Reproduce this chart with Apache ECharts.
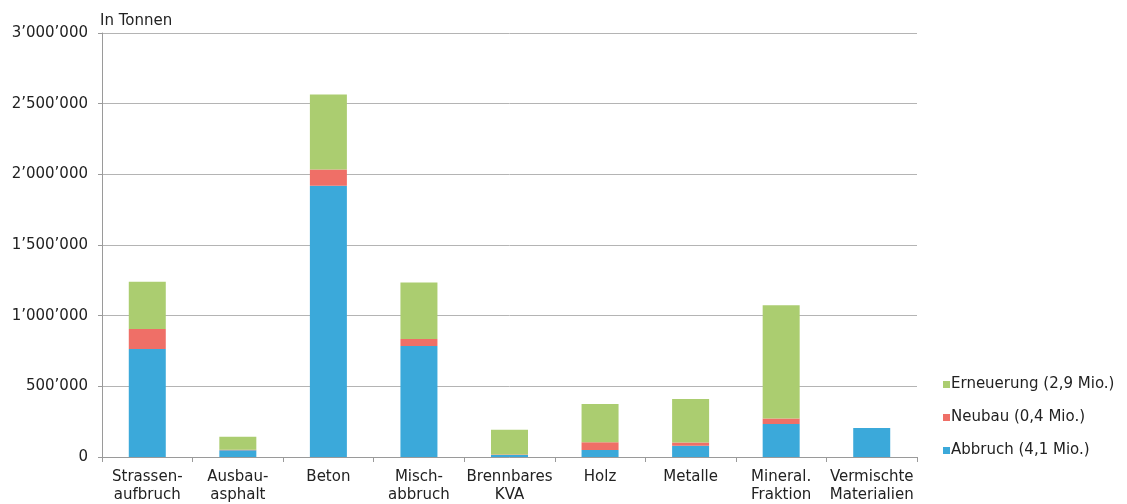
<!DOCTYPE html>
<html>
<head>
<meta charset="utf-8">
<script src="https://cdn.jsdelivr.net/npm/echarts@6/dist/echarts.min.js"></script>
<style>
html,body{margin:0;padding:0;background:#fff;}
#chart{width:1127px;height:504px;}
</style>
</head>
<body>
<div id="chart"></div>
<script>
const categories = ['Strassen-\naufbruch','Ausbau-\nasphalt','Beton','Misch-\nabbruch','Brennbares\nKVA','Holz','Metalle','Mineral.\nFraktion','Vermischte\nMaterialien'];
const abbruch    = [765000, 48000, 1920000, 785000, 15000, 50000, 80000, 233000, 205000];
const neubau     = [140000, 3000, 115000, 50000, 2000, 55000, 22000, 40000, 0];
const erneuerung = [335000, 92000, 530000, 400000, 175000, 270000, 308000, 800000, 0];
const seriesNames = ['Abbruch (4,1 Mio.)','Neubau (0,4 Mio.)','Erneuerung (2,9 Mio.)'];
const yTicks = {min:0, max:3000000, interval:500000};

function fmt(v){
  return String(v).replace(/\B(?=(\d{3})+(?!\d))/g, '\u2019');
}

const chart = echarts.init(document.getElementById('chart'));
const font = 'DejaVu Sans';
chart.setOption({
  animation:false,
  textStyle:{fontFamily:font},
  grid:{left:102, right:210, top:33, bottom:46, containLabel:false},
  legend:{
    orient:'vertical', left:938, top:372,
    data:[seriesNames[2], seriesNames[1], seriesNames[0]],
    itemWidth:7, itemHeight:7, itemGap:18,
    icon:'rect',
    textStyle:{fontFamily:font, fontSize:15, color:'#222', padding:[0,0,0,-4]}
  },
  xAxis:{
    type:'category', data:categories,
    axisLine:{lineStyle:{color:'#9a9a9a', width:1}},
    axisTick:{show:true, length:5, alignWithLabel:false, lineStyle:{color:'#9a9a9a'}},
    axisLabel:{fontFamily:font, fontSize:15, color:'#222', lineHeight:18, margin:11, interval:0}
  },
  yAxis:{
    type:'value', min:yTicks.min, max:yTicks.max, interval:yTicks.interval,
    name:'In Tonnen', nameLocation:'end', nameGap:4,
    nameTextStyle:{fontFamily:font, fontSize:15, color:'#222', align:'left', padding:[0,0,0,-2]},
    axisLine:{show:true, lineStyle:{color:'#9a9a9a', width:1}},
    axisTick:{show:true, length:4, lineStyle:{color:'#9a9a9a'}},
    splitLine:{show:true, lineStyle:{color:'#b4b4b4', width:1}},
    axisLabel:{fontFamily:font, fontSize:15, color:'#222', margin:14, formatter:fmt}
  },
  series:[
    {name:seriesNames[0], type:'bar', stack:'t', data:abbruch, barWidth:37, itemStyle:{color:'#3ba9da'}},
    {name:seriesNames[1], type:'bar', stack:'t', data:neubau, barWidth:37, itemStyle:{color:'#ef6f67'}},
    {name:seriesNames[2], type:'bar', stack:'t', data:erneuerung, barWidth:37, itemStyle:{color:'#abcd70'}}
  ]
});
</script>
</body>
</html>
